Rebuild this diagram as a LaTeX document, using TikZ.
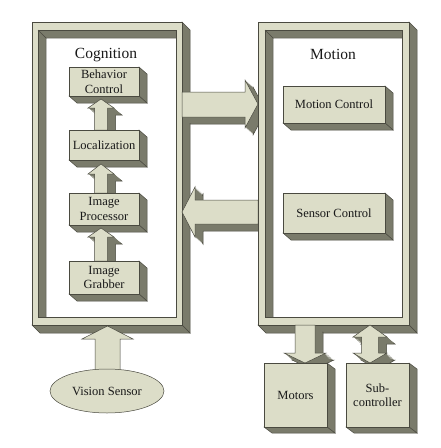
\documentclass[tikz,border=0pt]{standalone}
\usepackage{fontspec}
\setmainfont{Liberation Serif}
\definecolor{facec}{HTML}{DCDDC8}
\definecolor{sidec}{HTML}{7A7B6B}
\definecolor{edgec}{HTML}{4A4A40}
\tikzset{
  face/.style={fill=facec, draw=edgec, line width=0.5pt, line join=miter},
  side/.style={fill=sidec, draw=edgec, line width=0.5pt},
  lbl/.style={font=\fontsize{12.5}{14.5}\selectfont, align=center, text=black!90, inner sep=0pt},
  title/.style={font=\fontsize{15.5}{18}\selectfont, text=black!90},
}
\newcommand\cuboid[6]{%
  \filldraw[side] (#3,#2) -- (#3+#5,#2+#6) -- (#3+#5,#4+#6) -- (#3,#4) -- cycle;
  \filldraw[side] (#1,#4) -- (#3,#4) -- (#3+#5,#4+#6) -- (#1+#5,#4+#6) -- cycle;
  \filldraw[face] (#1,#2) rectangle (#3,#4);
}
\newcommand\solidarrow[3]{%
  \filldraw[side, shift={(#1,#2)}] #3;
  \foreach \s in {0.125,0.25,0.375,0.5,0.625,0.75,0.875} {\fill[sidec, shift={(\s*#1,\s*#2)}] #3;}
  \filldraw[face] #3;
}
\newcommand\frameopening[4]{%
  \fill[sidec] (#1,#2) rectangle (#3,#4);
  \fill[white] (#1+8,#2+8) rectangle (#3,#4);
  \draw[edgec, line width=0.5pt] (#1,#2) rectangle (#3,#4);
  \draw[edgec, line width=0.5pt] (#1,#2) -- (#1+8,#2+8) (#1+8,#4) -- (#1+8,#2+8) -- (#3,#2+8);
}
\begin{document}
\begin{tikzpicture}[x=1pt,y=-1pt]
\useasboundingbox (0,0) rectangle (440,448);
\fill[white] (0,0) rectangle (440,448);

% Cognition frame
\cuboid{32}{22}{182}{325}{8}{8}
\frameopening{38}{30}{176}{317}
\node[title] (cog) at (106,55) {Cognition};

\cuboid{69}{67}{139}{96}{8}{7}
\node[lbl] (bc) at (104,81.5) {Behavior\\Control};
\solidarrow{8}{7}{(94.5,130) -- (94.5,108) -- (88,108) -- (101,99) -- (114,108) -- (107.5,108) -- (107.5,130) -- cycle}
\cuboid{69}{130}{139}{160}{8}{7}
\node[lbl] (loc) at (104,145) {Localization};
\solidarrow{8}{7}{(94.5,193) -- (94.5,174) -- (88,174) -- (101,164) -- (114,174) -- (107.5,174) -- (107.5,193) -- cycle}
\cuboid{69}{193}{139}{225}{8}{7}
\node[lbl] (ip) at (104,209) {Image\\Processor};
\solidarrow{8}{7}{(94.5,261) -- (94.5,237) -- (88,237) -- (101,228) -- (114,237) -- (107.5,237) -- (107.5,261) -- cycle}
\cuboid{69}{261}{139}{294}{8}{7}
\node[lbl] (ig) at (104,277.5) {Image\\Grabber};

% arrows between frames
\solidarrow{8}{7}{(182,92) -- (245,92) -- (245,80) -- (258,104) -- (245,128) -- (245,117) -- (182,117) -- cycle}
\solidarrow{8}{7}{(258,200) -- (195,200) -- (195,187) -- (182,212) -- (195,237) -- (195,224) -- (258,224) -- cycle}

% Motion frame
\cuboid{258}{22}{409}{325}{8}{8}
\frameopening{265}{30}{402}{317}
\node[title] (mot) at (333,54) {Motion};

\cuboid{283}{86}{385}{123}{8}{7}
\node[lbl] (mc) at (334,104.5) {Motion Control};
\cuboid{283}{193}{385}{233}{8}{7}
\node[lbl] (sc) at (334,213) {Sensor Control};

% arrows to actuators
\solidarrow{8}{7}{(295,325) -- (295,353) -- (284,353) -- (305,363) -- (326,353) -- (315,353) -- (315,325) -- cycle}
\solidarrow{8}{7}{(361.5,337) -- (353,337) -- (370,325) -- (387,337) -- (378.5,337) -- (378.5,353) -- (387,353) -- (370,363) -- (353,353) -- (361.5,353) -- cycle}

\cuboid{264}{363}{327}{427}{8}{6}
\node[lbl] (motors) at (295.5,395) {Motors};
\cuboid{346}{363}{409}{427}{8}{6}
\node[lbl] (sub) at (377.5,395) {Sub-\\controller};

% vision sensor
\filldraw[face] (95,372) -- (95,339) -- (82,339) -- (107.5,326) -- (133,339) -- (120,339) -- (120,372) -- cycle;
\filldraw[face] (107,391) ellipse [x radius=57, y radius=22];
\node[lbl] (vs) at (107,391) {Vision Sensor};
\end{tikzpicture}
\end{document}
